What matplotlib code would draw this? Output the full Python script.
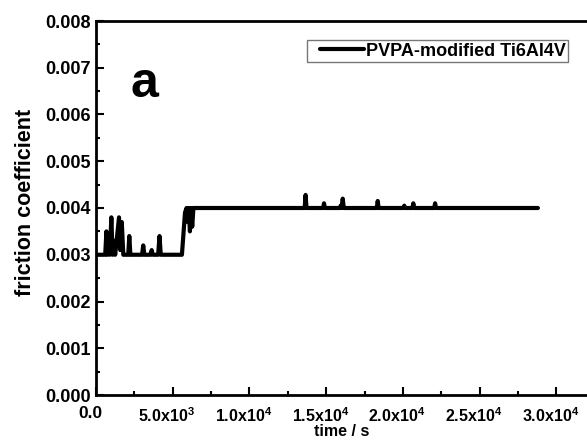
import matplotlib
matplotlib.use("Agg")
import matplotlib.pyplot as plt
import matplotlib.transforms as mtransforms
from matplotlib.ticker import MultipleLocator, FixedLocator, FixedFormatter
from matplotlib.legend_handler import HandlerLine2D
from matplotlib.lines import Line2D

plt.rcParams['font.family'] = ['Liberation Sans', 'DejaVu Sans']
plt.rcParams['font.weight'] = 'bold'
plt.rcParams['mathtext.fontset'] = 'custom'
plt.rcParams['mathtext.rm'] = 'Liberation Sans:bold'
plt.rcParams['mathtext.bf'] = 'Liberation Sans:bold'
plt.rcParams['mathtext.it'] = 'Liberation Sans:bold'

# data (time in s, friction coefficient)
time_s = [0, 600, 680, 740, 820, 900, 1000, 1080, 1150, 1250, 1500, 1580, 1680, 1780,
          2100, 2170, 2240, 3000, 3080, 3150, 3550, 3630, 3700, 4050, 4140, 4220,
          5600, 5800, 5900, 5980, 6050, 6120, 6200, 6270, 6350,
          13600, 13660, 13720, 14800, 14860, 14920, 15900, 15950, 16000, 16080, 16150,
          18300, 18360, 18420, 20050, 20090, 20140, 20620, 20680, 20740,
          22040, 22100, 22160, 28800]
friction = [0.0030, 0.0030, 0.0035, 0.0030, 0.0031, 0.0030, 0.0038, 0.0030, 0.0033, 0.0030,
            0.0038, 0.0031, 0.0037, 0.0030,
            0.0030, 0.0034, 0.0030, 0.0030, 0.0032, 0.0030, 0.0030, 0.0031, 0.0030,
            0.0030, 0.0034, 0.0030,
            0.0030, 0.0039, 0.0040, 0.0037, 0.0040, 0.0035, 0.0040, 0.0036, 0.0040,
            0.0040, 0.00428, 0.0040, 0.0040, 0.0041, 0.0040, 0.0040, 0.00405, 0.0040, 0.0042, 0.0040,
            0.0040, 0.00415, 0.0040, 0.0040, 0.00405, 0.0040, 0.0040, 0.0041, 0.0040,
            0.0040, 0.0041, 0.0040, 0.0040]
series_label = "PVPA-modified Ti6Al4V"

x_ticks = [0, 5000, 10000, 15000, 20000, 25000, 30000]
x_tick_labels = ["0.0", r"$\mathrm{5.0x10^{3}}$", r"$\mathrm{1.0x10^{4}}$", r"$\mathrm{1.5x10^{4}}$",
                 r"$\mathrm{2.0x10^{4}}$", r"$\mathrm{2.5x10^{4}}$", r"$\mathrm{3.0x10^{4}}$"]
y_ticks = [0.000, 0.001, 0.002, 0.003, 0.004, 0.005, 0.006, 0.007, 0.008]
y_tick_labels = ["0.000", "0.001", "0.002", "0.003", "0.004", "0.005", "0.006", "0.007", "0.008"]

fig = plt.figure(figsize=(5.87, 4.40), dpi=100)
ax = fig.add_axes([96/587, 1 - 395/440, 1 - 96/587, (395 - 21)/440])

ax.plot(time_s, friction, color='black', lw=3.0, solid_joinstyle='round',
        solid_capstyle='round', label=series_label)

ax.set_xlim(0, 32000)
ax.set_ylim(0, 0.008)
ax.xaxis.set_major_locator(FixedLocator(x_ticks))
ax.xaxis.set_major_formatter(FixedFormatter(x_tick_labels))
ax.xaxis.set_minor_locator(MultipleLocator(2500))
ax.yaxis.set_major_locator(FixedLocator(y_ticks))
ax.yaxis.set_major_formatter(FixedFormatter(y_tick_labels))
ax.yaxis.set_minor_locator(MultipleLocator(0.0005))

for s in ['left', 'bottom', 'top']:
    ax.spines[s].set_linewidth(2.0)
ax.spines['right'].set_visible(False)

ax.tick_params(which='both', direction='in', width=1.5)
ax.tick_params(which='major', length=6)
ax.tick_params(which='minor', length=3)
ax.tick_params(axis='x', pad=8, labelsize=11.5)
ax.tick_params(axis='y', pad=4, labelsize=13)
shift = mtransforms.ScaledTranslation(-6/100, 0, fig.dpi_scale_trans)
xlabs = ax.get_xticklabels()
for i, lab in enumerate(xlabs):
    lab.set_fontweight('bold')
    lab.set_transform(lab.get_transform() + shift)
    if i == 0:
        lab.set_fontsize(12.5)
for lab in ax.get_yticklabels():
    lab.set_fontweight('bold')

ax.set_xlabel("time / s", fontsize=11.5, fontweight='bold', va='bottom')
ax.xaxis.set_label_coords(0.5, -0.1176)
ax.set_ylabel("friction coefficient", fontsize=15.5, fontweight='bold')
ax.yaxis.set_label_coords(-0.122, 0.516)

leg = ax.legend(loc='upper left', bbox_to_anchor=(307/587, 1 - 40/440),
                bbox_transform=fig.transFigure, frameon=True, fancybox=False,
                prop={'weight': 'bold', 'size': 13}, handlelength=3.0,
                handletextpad=0.1, borderpad=0.15, borderaxespad=0,
                handler_map={Line2D: HandlerLine2D(xpad=0.55)})
leg.get_frame().set_edgecolor('#555555')
leg.get_frame().set_linewidth(1.0)

fig.text(131/587, 1 - 97/440, "a", fontsize=36, fontweight='bold', ha='left', va='baseline')

fig.savefig("out.png", dpi=100)
